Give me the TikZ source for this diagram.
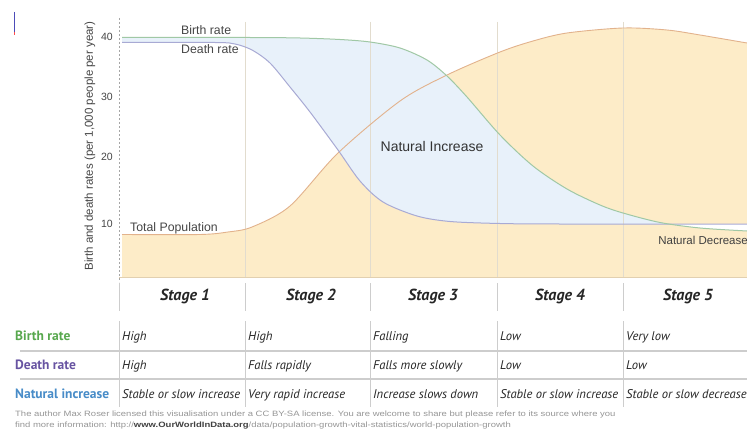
\documentclass[tikz,border=0pt]{standalone}
\usepackage{fontspec}
\setmainfont{Liberation Sans}
\newfontfamily\tabfont{PT Sans}
\newfontfamily\footfont[FakeStretch=1.23]{Liberation Sans}
\definecolor{popfill}{RGB}{253,236,200}
\definecolor{nifill}{RGB}{232,241,250}
\definecolor{birthline}{RGB}{160,200,165}
\definecolor{deathline}{RGB}{168,170,212}
\definecolor{popline}{RGB}{226,178,140}
\definecolor{stageline}{RGB}{226,220,206}
\definecolor{baseclr}{RGB}{226,208,176}
\definecolor{tabline}{RGB}{205,205,205}
\definecolor{birthtxt}{RGB}{88,168,78}
\definecolor{deathtxt}{RGB}{104,84,162}
\definecolor{nitxt}{RGB}{72,140,200}
\definecolor{labtxt}{RGB}{70,70,70}
\definecolor{foottxt}{RGB}{150,150,150}
\tikzset{
  chartlab/.style={inner sep=0pt,text=labtxt,font=\fontsize{12.3}{14}\selectfont},
  ticklab/.style={inner sep=0pt,text=labtxt,font=\fontsize{10.5}{12}\selectfont},
  stagehead/.style={inner sep=0pt,text height=11pt,text depth=3.5pt,text=black!85,font=\tabfont\bfseries\itshape\fontsize{16}{18}\selectfont},
  cell/.style={inner sep=0pt,anchor=west,text height=9pt,text depth=3pt,text=black!85,font=\tabfont\itshape\fontsize{12.6}{14}\selectfont},
  rowlab/.style={inner sep=0pt,anchor=west,text height=9.5pt,text depth=3pt,font=\tabfont\bfseries\fontsize{13.5}{15}\selectfont},
  foot/.style={inner sep=0pt,anchor=west,text=foottxt,font=\footfont\fontsize{7.7}{9}\selectfont},
  stagesep/.style={draw=stageline,line width=0.9pt},
  tabsep/.style={draw=tabline,line width=0.9pt},
  rowsep/.style={draw=tabline,line width=1.3pt}
}
\def\Bcurve{plot[smooth] coordinates {(122,37.5) (250,37.5) (300,38) (340,39.5) (370,42) (400,48) (427,60) (447,76) (467,97) (500,135) (533,166) (567,189) (600,205) (623,213) (660,222.5) (700,228) (747,231)}}
\def\Dcurve{plot[smooth] coordinates {(122,42.5) (215,42.5) (235,44) (252,50) (270,63) (290,87) (310,112) (338,150) (360,181) (383,202) (417,216) (450,221.5) (500,223.5) (560,224) (747,224)}}
\def\Pcurve{plot[smooth] coordinates {(122,234.5) (200,234.5) (228,232) (252,227) (290,206) (338,153) (400,101) (447,75) (500,52) (533,41) (567,33) (623,28) (667,30) (700,35) (747,43)}}
\begin{document}
\begin{tikzpicture}[x=1pt,y=-1pt]
\useasboundingbox (0,0) rectangle (747,436);
\fill[white] (0,0) rectangle (747,436);
% population area
\fill[popfill] \Pcurve -- (747,277) -- (122,277) -- cycle;
% natural increase area
\begin{scope}
  \clip \Bcurve -- (747,280) -- (122,280) -- cycle;
  \fill[nifill] \Dcurve -- (747,10) -- (122,10) -- cycle;
\end{scope}
% natural decrease sliver
\begin{scope}
  \clip (600,0) rectangle (750,280);
  \clip \Dcurve -- (747,280) -- (122,280) -- cycle;
  \fill[white] \Bcurve -- (747,10) -- (122,10) -- cycle;
\end{scope}
% stage lines in the chart
\foreach \x in {245,370,497,623}{\draw[stagesep] (\x,22) -- (\x,277);}
% curves
\draw[popline,line width=0.9pt] \Pcurve;
\draw[deathline,line width=1pt] \Dcurve;
\draw[birthline,line width=1pt] \Bcurve;
% axis and base line
\draw[baseclr,line width=1pt] (119,277) -- (747,277);
\draw[gray!70,dash pattern=on 2pt off 2pt,line width=0.7pt] (119,18) -- (119,282);
% little mark top-left
\draw[blue!60!black!70,line width=1.1pt] (14.5,12) -- (14.5,32);
\draw[red!70,line width=1.1pt] (14.5,32) -- (14.5,35);
% tick labels
\node[ticklab] (t40) at (107,37) {40};
\node[ticklab] (t30) at (107,97) {30};
\node[ticklab] (t20) at (107,157) {20};
\node[ticklab] (t10) at (107,224) {10};
\node[inner sep=0pt,text=labtxt,font=\fontsize{11.5}{13}\selectfont,rotate=90] (ylab) at (90,146) {Birth and death rates (per 1,000 people per year)};
% chart labels
\node[chartlab,anchor=west] (lbirth) at (181,30) {Birth rate};
\node[chartlab,anchor=west] (ldeath) at (181,49) {Death rate};
\node[chartlab,anchor=west] (lpop) at (130,228) {Total Population};
\node[inner sep=0pt,text=black!80,font=\fontsize{14}{16}\selectfont] (lni) at (432,146) {Natural Increase};
\node[inner sep=0pt,text=black!75,font=\fontsize{11.5}{13}\selectfont,anchor=east] (lnd) at (748,240) {Natural Decrease};
% table separators
\foreach \x in {119,245,370,497,623}{
  \draw[tabsep] (\x,283) -- (\x,311);
  \draw[tabsep] (\x,321) -- (\x,407);
}
\draw[rowsep] (20,351) -- (747,351);
\draw[rowsep] (20,379) -- (747,379);
% stage headers
\node[stagehead] (s1) at (185,297) {Stage 1};
\node[stagehead] (s2) at (311,297) {Stage 2};
\node[stagehead] (s3) at (433,297) {Stage 3};
\node[stagehead] (s4) at (560,297) {Stage 4};
\node[stagehead] (s5) at (688,297) {Stage 5};
% row labels
\node[rowlab,text=birthtxt] (rb) at (15,337) {Birth rate};
\node[rowlab,text=deathtxt] (rd) at (15,366) {Death rate};
\node[rowlab,text=nitxt] (rn) at (15,395) {Natural increase};
% cells
\node[cell] (b1) at (122,337) {High};
\node[cell] (b2) at (248,337) {High};
\node[cell] (b3) at (373,337) {Falling};
\node[cell] (b4) at (500,337) {Low};
\node[cell] (b5) at (626,337) {Very low};
\node[cell] (d1) at (122,366) {High};
\node[cell] (d2) at (248,366) {Falls rapidly};
\node[cell] (d3) at (373,366) {Falls more slowly};
\node[cell] (d4) at (500,366) {Low};
\node[cell] (d5) at (626,366) {Low};
\node[cell] (n1) at (122,395) {Stable or slow increase};
\node[cell] (n2) at (248,395) {Very rapid increase};
\node[cell] (n3) at (373,395) {Increase slows down};
\node[cell] (n4) at (500,395) {Stable or slow increase};
\node[cell] (n5) at (626,395) {Stable or slow decrease};
% footer
\node[foot] (f1) at (15,415) {The author Max Roser licensed this visualisation under a CC BY-SA license. You are welcome to share but please refer to its source where you};
\node[foot] (f2) at (15,426) {find more information: http://\textcolor{black!75}{\bfseries www.OurWorldInData.org}/data/population-growth-vital-statistics/world-population-growth};
\end{tikzpicture}
\end{document}
